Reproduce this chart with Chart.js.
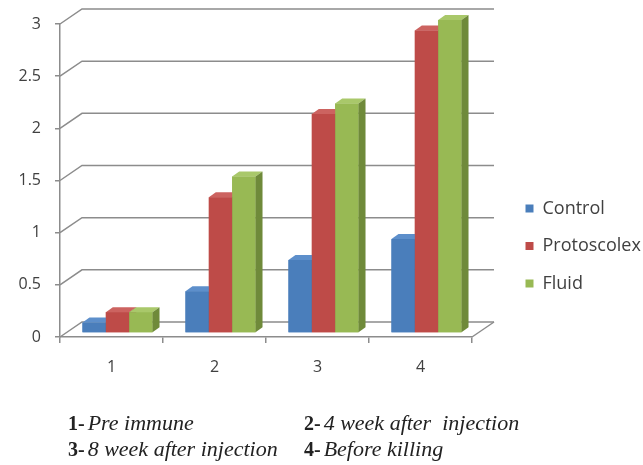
<!DOCTYPE html>
<html>
<head>
<meta charset="utf-8">
<script src="https://cdn.jsdelivr.net/npm/chart.js@4.4.0/dist/chart.umd.min.js"></script>
<style>
html, body { margin: 0; padding: 0; background: #fff; }
#wrap { width: 643px; height: 465px; }
</style>
</head>
<body>
<div id="wrap"><canvas id="chart"></canvas></div>
<script>
var categories = ["1", "2", "3", "4"];
var control = [0.1, 0.4, 0.7, 0.9];
var protoscolex = [0.2, 1.3, 2.1, 2.9];
var fluid = [0.2, 1.5, 2.2, 3.0];
var seriesNames = ["Control", "Protoscolex", "Fluid"];
var captions = [
	["1-", "Pre immune"],
	["2-", "4 week after  injection"],
	["3-", "8 week after injection"],
	["4-", "Before killing"]
];

// fake 3d look
var wallDx = 22, wallDy = -15;
var barShiftX = 6, barShiftY = -4;
var barDx = 7, barDy = -5;

var faces = [
	{ front: "#4a7ebb", top: "#5d8fcb", side: "#345f92" },
	{ front: "#be4b48", top: "#cc6360", side: "#8e3633" },
	{ front: "#98b954", top: "#a9c86a", side: "#6f8a3a" }
];

var gridColor = "#8c8c8c";
var textColor = "#404040";

var wallPlugin = {
	id: 'wall',
	beforeLayout: function(chart){
		var lg = chart.legend;
		if (lg && !lg._fixedFit) {
			var fit = lg.fit;
			lg.fit = function(){ fit.call(this); this.width = 150; };
			lg._fixedFit = true;
		}
	},
	afterLayout: function(chart){
		var lg = chart.legend;
		lg.left = 506; lg.right = 643; lg.width = 137;
		lg.top = 180; lg.bottom = 180 + 160; lg.height = 160;
	},
	beforeDatasetsDraw: function(chart){
		var ctx = chart.ctx, y = chart.scales.y, a = chart.chartArea;
		ctx.save();
		ctx.strokeStyle = gridColor;
		ctx.lineWidth = 1.5;
		y.ticks.forEach(function(t){
			var py = y.getPixelForValue(t.value);
			ctx.beginPath();
			ctx.moveTo(a.left, py);
			ctx.lineTo(a.left + wallDx, py + wallDy);
			ctx.lineTo(a.right + wallDx, py + wallDy);
			ctx.stroke();
		});
		ctx.beginPath();
		ctx.moveTo(a.right, a.bottom);
		ctx.lineTo(a.right + wallDx, a.bottom + wallDy);
		ctx.stroke();
		ctx.restore();
		ctx.save();
		ctx.translate(barShiftX, barShiftY);
	},
	afterDatasetsDraw: function(chart){
		var ctx = chart.ctx;
		categories.forEach(function(c, i){
			chart.data.datasets.forEach(function(ds, d){
				var bar = chart.getDatasetMeta(d).data[i];
				var f = faces[d];
				var l = bar.x - bar.width / 2, r = bar.x + bar.width / 2, t = bar.y, b = bar.base;
				ctx.fillStyle = f.front;
				ctx.fillRect(l, t, r - l, b - t);
				ctx.fillStyle = f.top;
				ctx.beginPath();
				ctx.moveTo(l, t);
				ctx.lineTo(l + barDx, t + barDy);
				ctx.lineTo(r + barDx, t + barDy);
				ctx.lineTo(r, t);
				ctx.closePath();
				ctx.fill();
				ctx.fillStyle = f.side;
				ctx.beginPath();
				ctx.moveTo(r, t);
				ctx.lineTo(r + barDx, t + barDy);
				ctx.lineTo(r + barDx, b + barDy);
				ctx.lineTo(r, b);
				ctx.closePath();
				ctx.fill();
			});
		});
		ctx.restore();
	},
	afterDraw: function(chart){
		var ctx = chart.ctx;
		var xs = [68, 304], ys = [430, 456];
		ctx.save();
		ctx.fillStyle = "#222";
		ctx.textBaseline = "alphabetic";
		captions.forEach(function(cap, k){
			var x = xs[k % 2], y = ys[Math.floor(k / 2)];
			ctx.font = 'bold 20px "Liberation Serif"';
			ctx.fillText(cap[0], x, y);
			x += ctx.measureText(cap[0]).width + 3;
			ctx.font = 'italic 22px "Liberation Serif"';
			ctx.fillText(cap[1], x, y);
		});
		ctx.restore();
	}
};

var data = {
	labels: categories,
	datasets: [
		{ label: seriesNames[0], data: control, backgroundColor: faces[0].front },
		{ label: seriesNames[1], data: protoscolex, backgroundColor: faces[1].front },
		{ label: seriesNames[2], data: fluid, backgroundColor: faces[2].front }
	]
};

var chart = new Chart(document.getElementById('chart'), {
	type: 'bar',
	data: data,
	plugins: [wallPlugin],
	options: {
		responsive: true,
		maintainAspectRatio: false,
		animation: false,
		datasets: { bar: { categoryPercentage: 0.68, barPercentage: 1 } },
		layout: { padding: { left: 8, top: 24, right: 21, bottom: 75 } },
		plugins: {
			tooltip: { enabled: false },
			legend: {
				position: 'right',
				align: 'start',
				labels: {
					boxWidth: 8,
					boxHeight: 8,
					padding: 19.5,
					color: textColor,
					font: { family: 'Open Sans', size: 18 }
				}
			}
		},
		scales: {
			x: {
				afterFit: function(s){ s.height = 53; },
				grid: { display: true, drawOnChartArea: false, drawTicks: true, tickLength: 6, color: gridColor, lineWidth: 1.5 },
				border: { display: true, color: gridColor, width: 1.5 },
				ticks: { color: textColor, font: { family: 'Open Sans', size: 16 }, padding: 15 }
			},
			y: {
				min: 0,
				max: 3,
				afterFit: function(s){ s.width = 52; },
				grid: { display: true, drawOnChartArea: false, drawTicks: true, tickLength: 5, color: gridColor, lineWidth: 1.5 },
				border: { display: true, color: gridColor, width: 1.5 },
				ticks: {
					stepSize: 0.5,
					color: textColor,
					font: { family: 'Open Sans', size: 16 },
					padding: 14,
					callback: function(v){ return v; }
				}
			}
		}
	}
});
</script>
</body>
</html>
